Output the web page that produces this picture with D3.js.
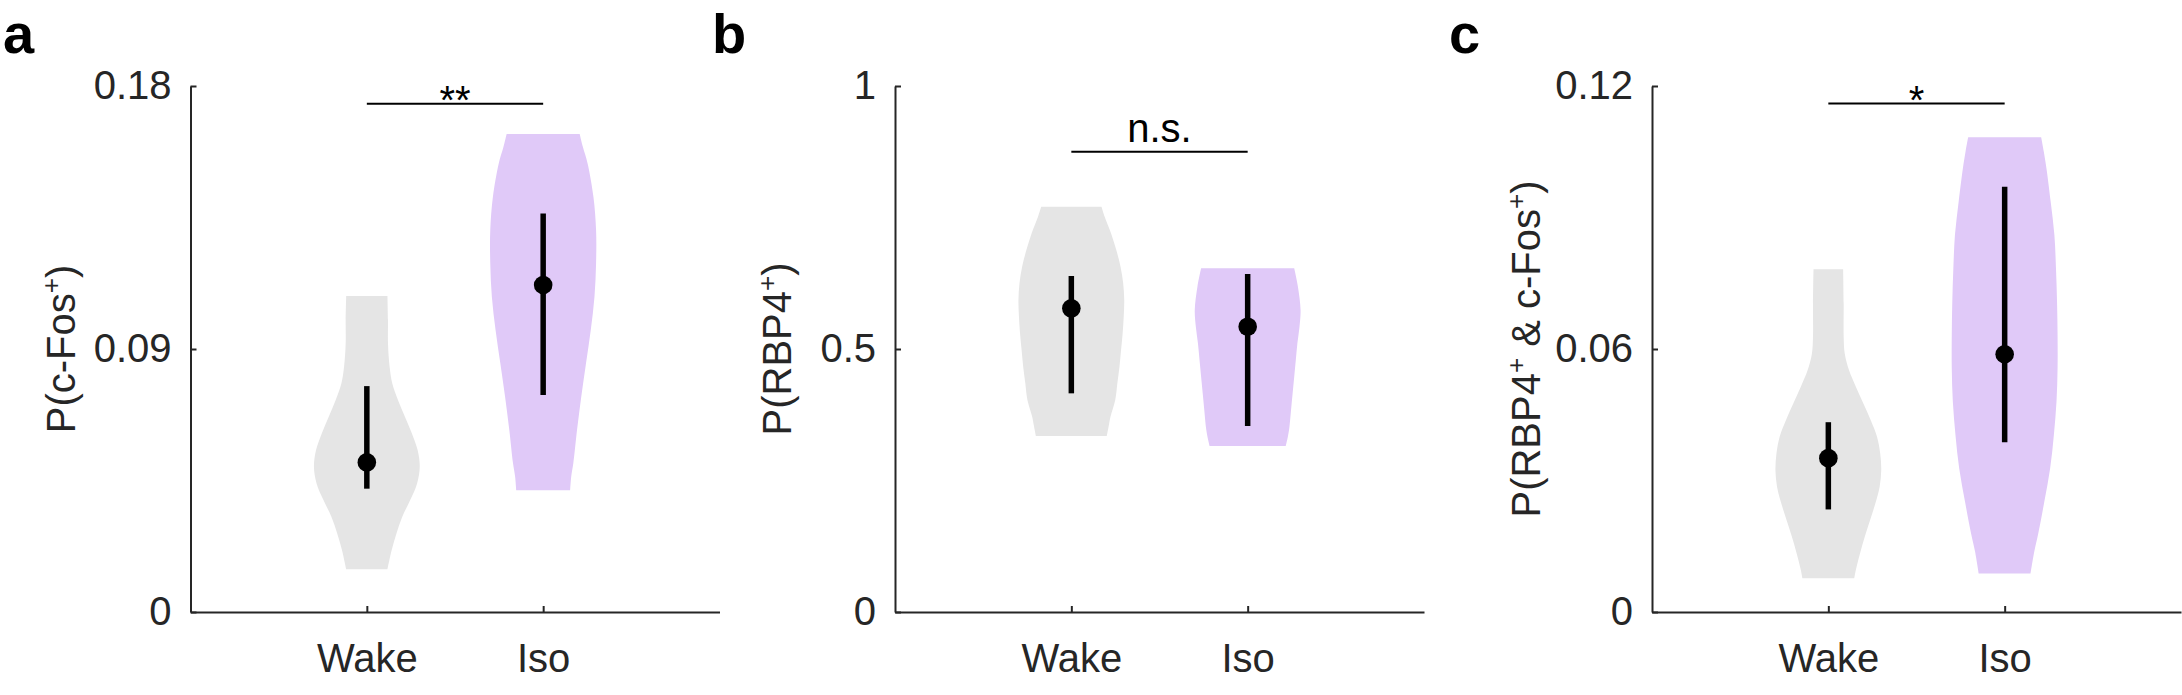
<!DOCTYPE html>
<html>
<head>
<meta charset="utf-8">
<script src="https://cdn.jsdelivr.net/npm/d3@7"></script>
<style>
  body { margin: 0; background: #fff; }
  text { font-family: "Liberation Sans", Arial, Helvetica, sans-serif; }
</style>
</head>
<body>
<div id="chart"></div>
<script>
// categories and axis setup
const categories = ["Wake", "Iso"];
const panelLetters = ["a", "b", "c"];
const yMaxes = [0.18, 1, 0.12];
const yTickValues = [[0, 0.09, 0.18], [0, 0.5, 1], [0, 0.06, 0.12]];
const yTickLabels = [["0", "0.09", "0.18"], ["0", "0.5", "1"], ["0", "0.06", "0.12"]];
const sigLabels = ["**", "n.s.", "*"];
const sigLevels = [0.1739, 0.875, 0.116];

// violin outlines: [value, relative density]
const cfosWake = [[0.1081,0.39],[0.0999,0.40],[0.0919,0.40],[0.0840,0.43],[0.0783,0.48],[0.0725,0.59],[0.0668,0.72],[0.0612,0.85],[0.0554,0.96],[0.0497,1.00],[0.0440,0.95],[0.0383,0.82],[0.0326,0.67],[0.0269,0.56],[0.0212,0.47],[0.0146,0.39]];
const cfosIso = [[0.1636,0.69],[0.1592,0.75],[0.1535,0.84],[0.1421,0.95],[0.1307,1.00],[0.1193,1.00],[0.1079,0.97],[0.0965,0.90],[0.0851,0.81],[0.0737,0.72],[0.0623,0.64],[0.0509,0.57],[0.0463,0.53],[0.0417,0.51]];
const rbp4Wake = [[0.7706,0.57],[0.7516,0.63],[0.720,0.75],[0.688,0.85],[0.6565,0.93],[0.625,0.98],[0.593,1.00],[0.5614,0.99],[0.530,0.97],[0.498,0.94],[0.4664,0.91],[0.4348,0.87],[0.403,0.83],[0.3713,0.74],[0.3555,0.71],[0.3346,0.67]];
const rbp4Iso = [[0.6534,0.88],[0.6185,0.95],[0.574,1.00],[0.5424,0.98],[0.5108,0.94],[0.479,0.91],[0.4473,0.88],[0.4157,0.85],[0.384,0.82],[0.3523,0.79],[0.3333,0.76],[0.3156,0.72]];
const bothWake = [[0.0782,0.28],[0.0704,0.29],[0.0628,0.29],[0.0590,0.31],[0.0552,0.39],[0.0514,0.52],[0.0476,0.66],[0.0438,0.80],[0.0400,0.92],[0.0362,0.98],[0.0324,1.00],[0.0286,0.97],[0.0248,0.89],[0.0210,0.79],[0.0172,0.69],[0.0134,0.60],[0.0096,0.52],[0.0077,0.49]];
const bothIso = [[0.1083,0.69],[0.1050,0.74],[0.1012,0.79],[0.0936,0.87],[0.0860,0.94],[0.0784,0.97],[0.0708,0.99],[0.0632,1.00],[0.0556,1.00],[0.0480,0.98],[0.0404,0.93],[0.0328,0.86],[0.0252,0.75],[0.0176,0.63],[0.0138,0.56],[0.0088,0.49]];

// medians and interquartile ranges (Wake, Iso)
const cfosMedian = [0.0512, 0.1119];
const cfosLow = [0.0422, 0.0743];
const cfosHigh = [0.0773, 0.1364];
const rbp4Median = [0.5773, 0.5424];
const rbp4Low = [0.4157, 0.3536];
const rbp4High = [0.6388, 0.6426];
const bothMedian = [0.0351, 0.0588];
const bothLow = [0.0234, 0.0387];
const bothHigh = [0.0433, 0.0970];

const panels = [
  { violins: [cfosWake, cfosIso], median: cfosMedian, low: cfosLow, high: cfosHigh },
  { violins: [rbp4Wake, rbp4Iso], median: rbp4Median, low: rbp4Low, high: rbp4High },
  { violins: [bothWake, bothIso], median: bothMedian, low: bothLow, high: bothHigh }
];

const fills = ["#e5e5e5", "#e0c9f8"];
const axisColor = "#262626";
const W = 2182, H = 695;
const plotTop = 86, plotBottom = 612, axisW = 529;
const axisLefts = [190.5, 895, 1652];
const letterX = [3, 712, 1449];
const ylabelX = [74.5, 791, 1540];
const halfWidth = 0.3;

const svg = d3.select("#chart").append("svg")
  .attr("width", W).attr("height", H)
  .style("background", "#fff");

function yLabel(g, i) {
  const t = g.append("text")
    .attr("transform", `translate(${ylabelX[i]},${(plotTop + plotBottom) / 2}) rotate(-90)`)
    .attr("text-anchor", "middle")
    .attr("fill", axisColor)
    .attr("font-size", 40);
  const sup = (txt) => t.append("tspan").attr("font-size", 26).attr("dy", -15).text(txt);
  const base = (txt) => t.append("tspan").attr("font-size", 40).attr("dy", 15).text(txt);
  if (i === 0) { t.append("tspan").text("P(c-Fos"); sup("+"); base(")"); }
  if (i === 1) { t.append("tspan").text("P(RBP4"); sup("+"); base(")"); }
  if (i === 2) { t.append("tspan").text("P(RBP4"); sup("+"); base(" & c-Fos"); sup("+"); base(")"); }
}

panels.forEach((p, i) => {
  const left = axisLefts[i];
  const x = d3.scaleLinear().domain([0, 3]).range([left, left + axisW]);
  const y = d3.scaleLinear().domain([0, yMaxes[i]]).range([plotBottom, plotTop]);
  const g = svg.append("g");

  // violins
  p.violins.forEach((v, k) => {
    const cx = k + 1;
    const area = d3.area()
      .y(d => y(d[0]))
      .x0(d => x(cx - d[1] * halfWidth))
      .x1(d => x(cx + d[1] * halfWidth))
      .curve(d3.curveCatmullRom);
    g.append("path").datum(v)
      .attr("d", area)
      .attr("fill", fills[k]);
  });

  // IQR bars and medians
  categories.forEach((c, k) => {
    g.append("line")
      .attr("x1", x(k + 1)).attr("x2", x(k + 1))
      .attr("y1", y(p.low[k])).attr("y2", y(p.high[k]))
      .attr("stroke", "#000").attr("stroke-width", 5.5);
    g.append("circle")
      .attr("cx", x(k + 1)).attr("cy", y(p.median[k]))
      .attr("r", 9.3).attr("fill", "#000");
  });

  // axes
  const yAxis = d3.axisLeft(y).tickValues(yTickValues[i])
    .tickFormat((d, j) => yTickLabels[i][j]).tickSizeInner(-6).tickSizeOuter(0).tickPadding(19);
  const ya = g.append("g").attr("transform", `translate(${left},0)`).call(yAxis);
  const xAxis = d3.axisBottom(x).tickValues([1, 2])
    .tickFormat((d, j) => categories[j]).tickSizeInner(-6).tickSizeOuter(0).tickPadding(0);
  const xa = g.append("g").attr("transform", `translate(0,${plotBottom})`).call(xAxis);
  [ya, xa].forEach(a => {
    a.select(".domain").attr("stroke", axisColor).attr("stroke-width", 2);
    a.selectAll(".tick line").attr("stroke", axisColor).attr("stroke-width", 2);
    a.selectAll(".tick text").attr("fill", axisColor)
      .attr("font-size", 40).attr("font-family", "Liberation Sans, Arial, sans-serif");
  });
  xa.selectAll(".tick text").attr("y", 60).attr("dy", 0);

  yLabel(g, i);

  // significance
  const sy = y(sigLevels[i]);
  g.append("line")
    .attr("x1", x(1)).attr("x2", x(2))
    .attr("y1", sy).attr("y2", sy)
    .attr("stroke", "#000").attr("stroke-width", 2);
  g.append("text")
    .attr("x", (x(1) + x(2)) / 2)
    .attr("y", sigLabels[i] === "n.s." ? sy - 10 : sy + 10.5)
    .attr("text-anchor", "middle")
    .attr("font-size", 40)
    .attr("fill", "#000")
    .text(sigLabels[i]);

  // panel letter
  svg.append("text")
    .attr("x", letterX[i]).attr("y", 53)
    .attr("font-size", 56).attr("font-weight", "bold")
    .attr("fill", "#000")
    .text(panelLetters[i]);
});
</script>
</body>
</html>
